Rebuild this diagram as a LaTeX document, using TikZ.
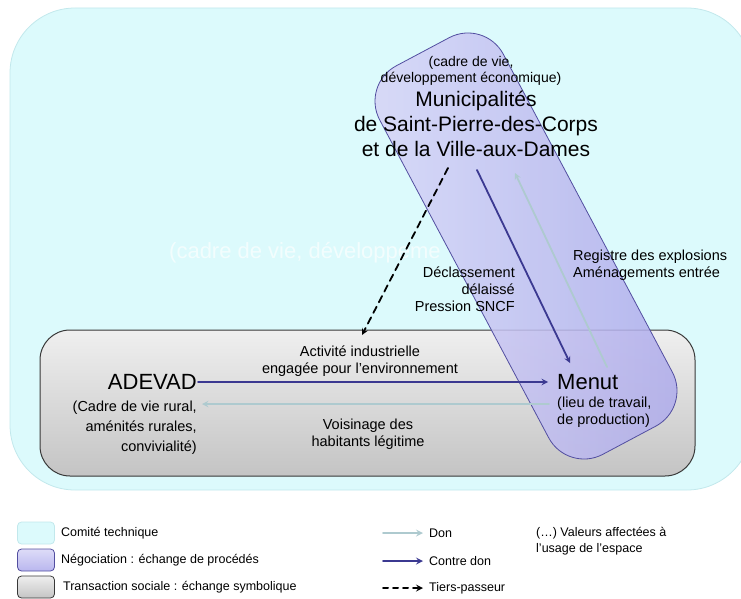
\documentclass[tikz,border=0pt]{standalone}
\usepackage{fontspec}
\setmainfont{Liberation Sans}
\usetikzlibrary{positioning}

\begin{document}
\begin{tikzpicture}
		[x=1pt,y=-1pt,line cap=round,
		%Styles
		zone/.style={rounded corners=#1,line width=0.8pt},
		comite/.style={fill=comitefond,draw=comitebord},
		negociation/.style={left color=negoclair,right color=negofonce,draw=negobord,fill opacity=0.85},
		transaction/.style={top color=transclair,bottom color=transfonce,draw=transbord},
		acteur/.style={font=\fontsize{22}{25}\selectfont,inner sep=1pt},
		valeurs/.style={font=\fontsize{14.5}{17}\selectfont,inner sep=1pt},
		echange/.style={font=\fontsize{14.5}{17}\selectfont,inner sep=1pt},
		legende/.style={font=\fontsize{12.5}{16}\selectfont,inner sep=1pt},
		don/.style={->,draw=doncolor,line width=1.8pt},
		contre don/.style={->,draw=contredoncolor,line width=1.8pt},
		tiers/.style={->,draw=black,line width=1.8pt,dash pattern=on 7pt off 5pt},
		>=stealth
		]
		
		%Colors
		\definecolor{comitefond}{HTML}{DCFAFC}
		\definecolor{comitebord}{HTML}{C2E8EC}
		\definecolor{negoclair}{HTML}{D8D6F7}
		\definecolor{negofonce}{HTML}{ADAAEB}
		\definecolor{negobord}{HTML}{524EA0}
		\definecolor{transclair}{HTML}{EFEFEF}
		\definecolor{transfonce}{HTML}{C4C4C4}
		\definecolor{transbord}{HTML}{383838}
		\definecolor{doncolor}{HTML}{AECACF}
		\definecolor{contredoncolor}{HTML}{3B3991}
		
		%The graphic
		\path[use as bounding box,clip] (0,0) rectangle (741,599);
		
		\draw[zone=65pt,comite] (10,8) rectangle (752,490);
		\node[acteur,text=white,text opacity=0.65,anchor=west] (fond) at (168,253) {(cadre de vie, développeme};
		\draw[zone=30pt,transaction,line width=1pt] (40,330) rectangle (695,476);
		\node[zone=40pt,negociation,rotate=-62,minimum width=440pt,minimum height=140pt] (nego) at (526,246) {};
		
		\node[acteur,font=\fontsize{21}{25}\selectfont,align=center] (muni) at (476,124) {Municipalités\\de Saint-Pierre-des-Corps\\et de la Ville-aux-Dames};
		\node[valeurs,font=\fontsize{14}{15.5}\selectfont,align=center] (muni valeurs) at (471,71) {(cadre de vie,\\développement économique)};
		\node[acteur,anchor=east] (adevad) at (198,382) {ADEVAD};
		\node[valeurs,font=\fontsize{14.5}{20}\selectfont,align=right,anchor=east] (adevad valeurs) at (198,428) {(Cadre de vie rural,\\aménités rurales,\\convivialité)};
		\node[acteur,anchor=west] (menut) at (556,382) {Menut};
		\node[valeurs,align=left,anchor=west] (menut valeurs) at (556,412) {(lieu de travail,\\de production)};
		
		\node[echange,align=center] (activite) at (360,361) {Activité industrielle\\engagée pour l’environnement};
		\node[echange,align=center] (voisinage) at (368,434) {Voisinage des\\habitants légitime};
		\node[echange,align=right,anchor=east] (declassement) at (516,289) {Déclassement\\délaissé\\Pression SNCF};
		\node[echange,align=left,anchor=west] (registre) at (572,265) {Registre des explosions\\Aménagements entrée};
		
		\coordinate (muni dep) at (477,170);
		\coordinate (menut arr) at (570,363);
		\coordinate (menut dep) at (607,367);
		\coordinate (muni arr) at (515,173);
		\coordinate (tiers dep) at (448,168);
		\coordinate (tiers arr) at (362,335);
		\coordinate (menut don) at (549,404);
		\coordinate (adevad don) at (202,404);
		
		\draw[contre don,shorten >=8pt] (adevad) -- (menut);
		\draw[contre don] (muni dep) -- (menut arr);
		\draw[don] (menut don) -- (adevad don);
		\draw[don] (menut dep) -- (muni arr);
		\draw[tiers] (tiers dep) -- (tiers arr);
		
		%Legend
		\node[zone=4pt,comite,minimum width=37pt,minimum height=22pt,inner sep=0pt] (leg comite) at (36,533) {};
		\node[zone=4pt,negociation,top color=negoclair,bottom color=negofonce,minimum width=37pt,minimum height=22pt,inner sep=0pt] (leg nego) at (36,560) {};
		\node[zone=4pt,transaction,minimum width=37pt,minimum height=22pt,inner sep=0pt] (leg trans) at (36,587) {};
		\node[legende,right=5pt of leg comite] (leg comite texte) {Comité technique};
		\node[legende,right=5pt of leg nego] (leg nego texte) {Négociation : échange de procédés};
		\node[legende,right=7pt of leg trans] (leg trans texte) {Transaction sociale : échange symbolique};
		
		\node[legende,anchor=west] (leg don) at (428,533) {Don};
		\node[legende,anchor=west] (leg contre) at (428,561) {Contre don};
		\node[legende,anchor=west] (leg tiers) at (428,588) {Tiers-passeur};
		\node[legende,align=left,anchor=west] (leg valeurs) at (535,541) {(…) Valeurs affectées à\\l’usage de l’espace};
		
		\draw[don,line width=2pt] ([xshift=-45pt]leg don.west) -- ([xshift=-5pt]leg don.west);
		\draw[contre don,line width=2pt] ([xshift=-45pt]leg contre.west) -- ([xshift=-5pt]leg contre.west);
		\draw[tiers,line width=2pt,dash pattern=on 5pt off 5pt] ([xshift=-45pt]leg tiers.west) -- ([xshift=-5pt]leg tiers.west);
	\end{tikzpicture}
\end{document}
